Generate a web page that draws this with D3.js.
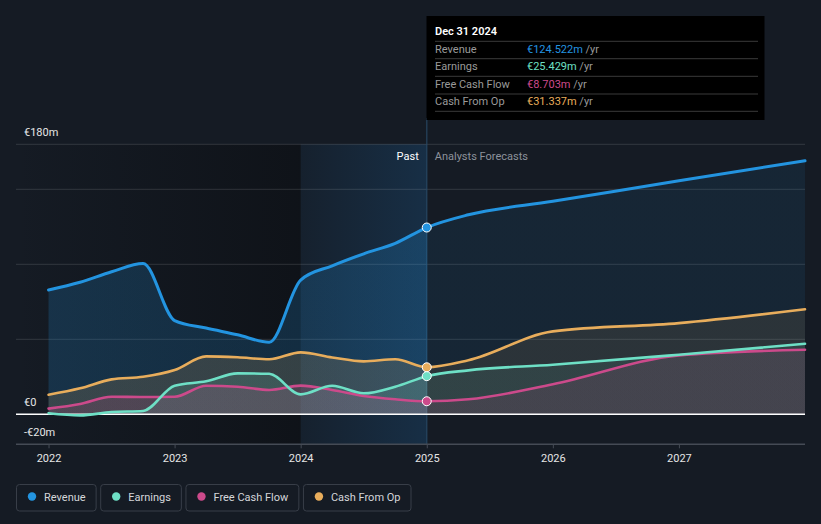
<!DOCTYPE html>
<html>
<head>
<meta charset="utf-8">
<script src="https://cdn.jsdelivr.net/npm/d3@7/dist/d3.min.js"></script>
<style>
  html, body { margin: 0; padding: 0; background: #151b24; }
  svg { display: block; }
  text { font-family: Roboto, "Noto Sans", sans-serif; }
</style>
</head>
<body>
<svg id="chart" width="821" height="524"></svg>
<script>
// ---------- DATA ----------
const pastDates = [2022, 2022.25, 2022.5, 2022.75, 2023, 2023.25, 2023.5, 2023.75, 2024, 2024.25, 2024.5, 2024.75, 2025];
const forecastDates = [2025.33, 2026, 2027, 2028];

const revenuePast = [82.9, 88, 95, 100.5, 62.5, 57.5, 53, 48, 89.5, 99, 107, 114, 124.522];
const revenueForecast = [133, 142, 155.7, 169];

const earningsPast = [0.7, -0.7, 1.5, 2.2, 19, 22, 27.3, 27, 13.3, 19, 14, 18.4, 25.429];
const earningsForecast = [29.3, 33, 39.7, 47];

const fcfPast = [3.8, 6.9, 11.7, 11.5, 11.7, 19, 18.4, 16.2, 19.1, 16.2, 12.2, 10, 8.703];
const fcfForecast = [10, 20, 39.3, 43];

const cfoPast = [13, 17.3, 23.3, 25, 29.5, 38.6, 38, 36.7, 41.3, 37.9, 35.3, 36.7, 31.337];
const cfoForecast = [36, 55.3, 60.8, 70];

const xTickYears = [2022, 2023, 2024, 2025, 2026, 2027];
const yTickLabels = [{v: 180, t: "€180m"}, {v: 0, t: "€0"}, {v: -20, t: "-€20m"}];
const gridValues = [50, 100, 150, 180];

const seriesNames = ["Revenue", "Earnings", "Free Cash Flow", "Cash From Op"];
const seriesColors = ["#2394e0", "#6ee0c6", "#cc4a8b", "#e8ad5c"];
const tooltipDate = "Dec 31 2024";
const tooltipValues = ["€124.522m", "€25.429m", "€8.703m", "€31.337m"];
const pastLabel = "Past";
const forecastLabel = "Analysts Forecasts";
const nowYear = 2025;
const pastBandStart = 2024;

// ---------- SETUP ----------
const svg = d3.select("#chart");
const x = d3.scaleLinear().domain([2021.742, 2028]).range([16, 805]);
const y = d3.scaleLinear().domain([-20, 180]).range([444.3, 144.3]);

const series = [
  {name: seriesNames[0], color: seriesColors[0], past: revenuePast, fc: revenueForecast, w: 3, op: [0.2, 0.09]},
  {name: seriesNames[3], color: seriesColors[3], past: cfoPast, fc: cfoForecast, w: 2.6, op: [0.16, 0.1]},
  {name: seriesNames[1], color: seriesColors[1], past: earningsPast, fc: earningsForecast, w: 2.6, op: [0.14, 0.09]},
  {name: seriesNames[2], color: seriesColors[2], past: fcfPast, fc: fcfForecast, w: 2.6, op: [0.16, 0.12]},
];
series.forEach(s => {
  s.data = pastDates.map((d, i) => ({d, v: s.past[i]}))
    .concat(forecastDates.map((d, i) => ({d, v: s.fc[i]})));
});

const defs = svg.append("defs");

const dg = defs.append("linearGradient").attr("id", "darkPast")
  .attr("gradientUnits", "userSpaceOnUse")
  .attr("x1", x.range()[0]).attr("x2", x(pastBandStart)).attr("y1", 0).attr("y2", 0);
dg.append("stop").attr("offset", 0).attr("stop-color", "#0d1015").attr("stop-opacity", 0);
dg.append("stop").attr("offset", 1).attr("stop-color", "#0d1015").attr("stop-opacity", 0.75);

const bg = defs.append("linearGradient").attr("id", "blueBand")
  .attr("gradientUnits", "userSpaceOnUse")
  .attr("x1", x(pastBandStart)).attr("x2", x(nowYear)).attr("y1", 0).attr("y2", 0);
bg.append("stop").attr("offset", 0).attr("stop-color", "#1a4a74").attr("stop-opacity", 0.12);
bg.append("stop").attr("offset", 1).attr("stop-color", "#1a4a74").attr("stop-opacity", 0.42);

series.forEach((s, i) => {
  const g = defs.append("linearGradient").attr("id", "area" + i)
    .attr("gradientUnits", "userSpaceOnUse")
    .attr("x1", x.range()[0]).attr("x2", x.range()[1]).attr("y1", 0).attr("y2", 0);
  const cut = (x(nowYear) - x.range()[0]) / (x.range()[1] - x.range()[0]);
  g.append("stop").attr("offset", 0).attr("stop-color", s.color).attr("stop-opacity", s.op[0]);
  g.append("stop").attr("offset", cut).attr("stop-color", s.color).attr("stop-opacity", s.op[0]);
  g.append("stop").attr("offset", cut).attr("stop-color", s.color).attr("stop-opacity", s.op[1]);
  g.append("stop").attr("offset", 1).attr("stop-color", s.color).attr("stop-opacity", s.op[1]);
});

// ---------- BACKGROUND REGIONS ----------
svg.append("rect")
  .attr("x", x.range()[0]).attr("y", y(180))
  .attr("width", x(pastBandStart) - x.range()[0]).attr("height", y(-20) - y(180))
  .attr("fill", "url(#darkPast)");
svg.append("rect")
  .attr("x", x(pastBandStart)).attr("y", y(180))
  .attr("width", x(nowYear) - x(pastBandStart)).attr("height", y(-20) - y(180))
  .attr("fill", "url(#blueBand)");

svg.append("g").selectAll("line").data(gridValues).join("line")
  .attr("x1", x.range()[0]).attr("x2", x.range()[1])
  .attr("y1", d => y(d)).attr("y2", d => y(d))
  .attr("stroke", "#ffffff").attr("stroke-opacity", 0.13).attr("stroke-width", 1);

svg.append("line")
  .attr("x1", x(nowYear)).attr("x2", x(nowYear))
  .attr("y1", 118).attr("y2", y(-20))
  .attr("stroke", "#2a4a66").attr("stroke-opacity", 0.7).attr("stroke-width", 1.5);

// ---------- AREAS & LINES ----------
const area = d3.area().x(d => x(d.d)).y0(y(0)).y1(d => y(d.v)).curve(d3.curveMonotoneX);
const line = d3.line().x(d => x(d.d)).y(d => y(d.v)).curve(d3.curveMonotoneX);

series.forEach((s, i) => {
  svg.append("path").datum(s.data).attr("d", area).attr("fill", `url(#area${i})`);
});

svg.append("line")
  .attr("x1", x.range()[0]).attr("x2", x.range()[1])
  .attr("y1", y(0)).attr("y2", y(0))
  .attr("stroke", "#ffffff").attr("stroke-width", 1.5);

[series[1], series[3], series[2], series[0]].forEach(s => {
  svg.append("path").datum(s.data).attr("d", line)
    .attr("fill", "none").attr("stroke", s.color).attr("stroke-width", s.w)
    .attr("stroke-linejoin", "round").attr("stroke-linecap", "round");
});

series.forEach(s => {
  const p = s.data.find(d => d.d === nowYear);
  svg.append("circle").attr("cx", x(p.d)).attr("cy", y(p.v)).attr("r", 4.5)
    .attr("fill", s.color).attr("stroke", "#ffffff").attr("stroke-width", 1);
});

// ---------- AXES ----------
const xAxis = svg.append("g").attr("transform", `translate(0,${y(-20)})`)
  .call(d3.axisBottom(x).tickValues(xTickYears).tickFormat(d3.format("d")).tickSize(4).tickPadding(6));
xAxis.select(".domain").attr("stroke", "#454b55").attr("stroke-width", 1.5)
  .attr("d", `M${x.range()[0]},0H${x.range()[1]}`);
xAxis.selectAll(".tick line").attr("stroke", "#454b55");
xAxis.selectAll(".tick text").attr("fill", "#e6e6e6").attr("font-size", 11)
  .attr("font-family", "Roboto, sans-serif");

svg.append("g").selectAll("text").data(yTickLabels).join("text")
  .attr("x", 24).attr("y", d => y(d.v) - 8)
  .attr("fill", "#e6e6e6").attr("font-size", 11).text(d => d.t);

svg.append("text").attr("x", x(nowYear) - 8).attr("y", 160).attr("text-anchor", "end")
  .attr("fill", "#ffffff").attr("font-size", 11).text(pastLabel);
svg.append("text").attr("x", x(nowYear) + 8).attr("y", 160)
  .attr("fill", "#8d929b").attr("font-size", 11).text(forecastLabel);

// ---------- TOOLTIP ----------
const tt = svg.append("g");
tt.append("rect").attr("x", 426.5).attr("y", 16).attr("width", 338).attr("height", 104)
  .attr("fill", "#000000");
tt.append("text").attr("x", 435).attr("y", 35).attr("fill", "#ffffff")
  .attr("font-size", 11).attr("font-weight", 600).text(tooltipDate);
const sepY = [41.3, 58.7, 76.3, 94, 111.3];
tt.selectAll("line.sep").data(sepY).join("line").attr("class", "sep")
  .attr("x1", 435).attr("x2", 758).attr("y1", d => d).attr("y2", d => d)
  .attr("stroke", "#3a3a3a").attr("stroke-width", 1);
[0, 1, 2, 3].forEach((k, i) => {
  const by = 53 + i * 17.4;
  tt.append("text").attr("x", 435).attr("y", by).attr("fill", "#9a9a9a")
    .attr("font-size", 11).text(seriesNames[k]);
  const t = tt.append("text").attr("x", 527).attr("y", by).attr("font-size", 11);
  t.append("tspan").attr("fill", seriesColors[k]).text(tooltipValues[k]);
  t.append("tspan").attr("fill", "#9a9a9a").text(" /yr");
});

// ---------- LEGEND ----------
const leg = svg.append("g");
let lx = 16;
seriesNames.forEach((n, i) => {
  const g = leg.append("g");
  const txt = g.append("text").attr("x", lx + 28).attr("y", 500.5).attr("fill", "#d4d6da")
    .attr("font-size", 11).text(n);
  const w = txt.node().getComputedTextLength();
  const bw = w + 28 + 10;
  g.insert("rect", "text").attr("x", lx + 0.5).attr("y", 484.5).attr("width", bw).attr("height", 26.5)
    .attr("rx", 3).attr("fill", "none").attr("stroke", "#383e48").attr("stroke-width", 1);
  g.append("circle").attr("cx", lx + 16).attr("cy", 496.5).attr("r", 4.2).attr("fill", seriesColors[i]);
  lx += bw + 4.6;
});
</script>
</body>
</html>
